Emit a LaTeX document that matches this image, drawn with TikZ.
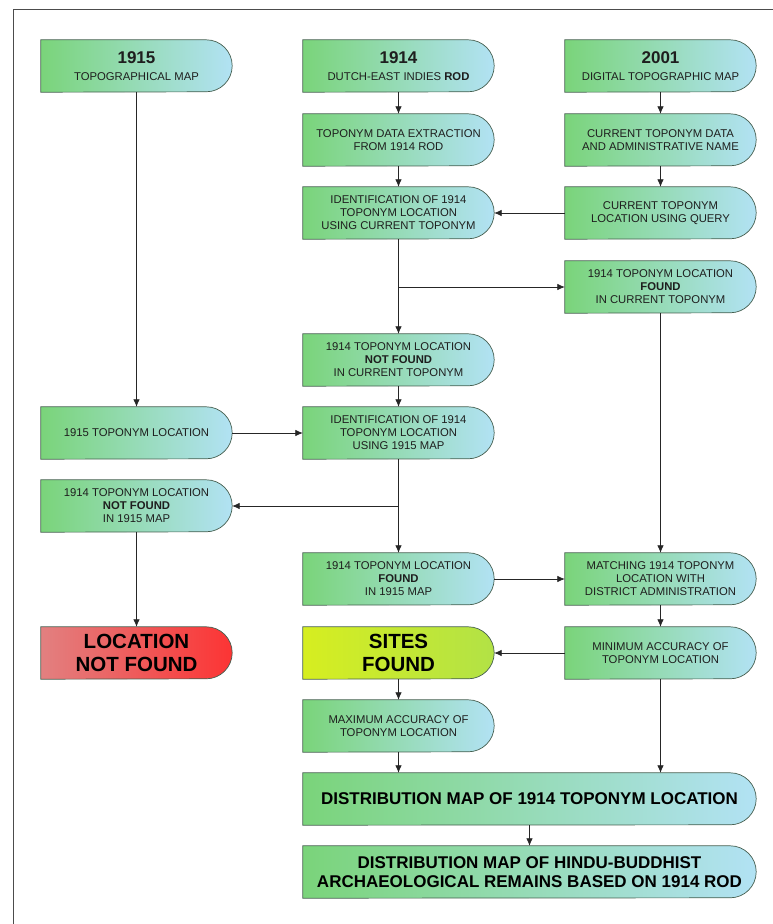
\documentclass[tikz,border=0pt]{standalone}
\usepackage{fontspec}
\setmainfont{Liberation Sans}
\usetikzlibrary{arrows.meta,backgrounds}
\definecolor{gA}{RGB}{122,212,122}
\definecolor{gB}{RGB}{178,226,244}
\definecolor{rA}{RGB}{226,128,128}
\definecolor{rB}{RGB}{252,52,52}
\definecolor{yA}{RGB}{214,238,32}
\definecolor{yB}{RGB}{178,226,70}
\definecolor{edgec}{RGB}{70,95,80}
\definecolor{txt}{RGB}{30,30,30}
\tikzset{
  box/.style={rectangle, draw=none, minimum width=191pt, minimum height=52pt,
    inner sep=0pt, align=center, text=txt, font=\fontsize{11.3}{13}\selectfont},
  wide/.style={box, minimum width=453pt, font=\fontsize{17}{19}\selectfont\bfseries, text=black},
  big/.style={font=\fontsize{20.5}{23}\selectfont\bfseries, text=black},
  boxline/.style={draw=edgec, line width=0.7pt},
  arr/.style={draw=black!85, line width=0.75pt, -{Latex[length=7.5pt,width=6.5pt]}},
}
\newcommand\dbox[3]{\draw[boxline, left color=#2, right color=#3] (#1.north west) -- ([xshift=-26pt]#1.north east) arc[start angle=90,end angle=-90,radius=26pt] -- (#1.south west) -- cycle;}
\newcommand\hd[1]{{\fontsize{17}{17}\selectfont\bfseries #1}\\[4pt]}
\begin{document}
\begin{tikzpicture}[x=1pt,y=-1pt]
\useasboundingbox (0,0) rectangle (773,924);
\draw[black!70, line width=1pt] (13,924) -- (13,9) -- (773,9);
% column 1
\node[box] (y1915) at (136.5,66) {\hd{1915}TOPOGRAPHICAL MAP};
\node[box] (loc1915) at (136.5,433) {1915 TOPONYM LOCATION};
\node[box] (nf2) at (136.5,506) {1914 TOPONYM LOCATION\\\textbf{NOT FOUND}\\IN 1915 MAP};
\node[box, big] (locnf) at (136.5,653) {LOCATION\\NOT FOUND};
% column 2
\node[box] (y1914) at (398.5,66) {\hd{1914}DUTCH-EAST INDIES \textbf{ROD}};
\node[box] (extract) at (398.5,140) {TOPONYM DATA EXTRACTION\\FROM 1914 ROD};
\node[box] (ident1) at (398.5,213) {IDENTIFICATION OF 1914\\TOPONYM LOCATION\\USING CURRENT TOPONYM};
\node[box] (nf1) at (398.5,360) {1914 TOPONYM LOCATION\\\textbf{NOT FOUND}\\IN CURRENT TOPONYM};
\node[box] (ident2) at (398.5,433) {IDENTIFICATION OF 1914\\TOPONYM LOCATION\\USING 1915 MAP};
\node[box] (found2) at (398.5,579) {1914 TOPONYM LOCATION\\\textbf{FOUND}\\IN 1915 MAP};
\node[box, big] (sites) at (398.5,653) {SITES\\FOUND};
\node[box] (maxacc) at (398.5,726) {MAXIMUM ACCURACY OF\\TOPONYM LOCATION};
% column 3
\node[box] (y2001) at (660.5,66) {\hd{2001}DIGITAL TOPOGRAPHIC MAP};
\node[box] (curdata) at (660.5,140) {CURRENT TOPONYM DATA\\AND ADMINISTRATIVE NAME};
\node[box] (query) at (660.5,213) {CURRENT TOPONYM\\LOCATION USING QUERY};
\node[box] (found1) at (660.5,287) {1914 TOPONYM LOCATION\\\textbf{FOUND}\\IN CURRENT TOPONYM};
\node[box] (match) at (660.5,579) {MATCHING 1914 TOPONYM\\LOCATION WITH\\DISTRICT ADMINISTRATION};
\node[box] (minacc) at (660.5,653) {MINIMUM ACCURACY OF\\TOPONYM LOCATION};
% wide
\node[wide] (dist) at (529.5,799) {DISTRIBUTION MAP OF 1914 TOPONYM LOCATION};
\node[wide] (hindu) at (529.5,872) {DISTRIBUTION MAP OF HINDU-BUDDHIST\\ARCHAEOLOGICAL REMAINS BASED ON 1914 ROD};
% box shapes behind the text
\begin{pgfonlayer}{background}
\foreach \n in {y1915,loc1915,nf2,y1914,extract,ident1,nf1,ident2,found2,maxacc,y2001,curdata,query,found1,match,minacc,dist,hindu}{\dbox{\n}{gA}{gB}}
\dbox{locnf}{rA}{rB}
\dbox{sites}{yA}{yB}
\end{pgfonlayer}
% connectors
\draw[arr] (y1915.south) -- (loc1915.north);
\draw[arr] (y1914.south) -- (extract.north);
\draw[arr] (extract.south) -- (ident1.north);
\draw[arr] (y2001.south) -- (curdata.north);
\draw[arr] (curdata.south) -- (query.north);
\draw[arr] (query.west) -- (ident1.east);
\draw[arr] (ident1.south) -- (nf1.north);
\draw[arr] (ident1.south |- found1.west) -- (found1.west);
\draw[arr] (nf1.south) -- (ident2.north);
\draw[arr] (loc1915.east) -- (ident2.west);
\draw[arr] (ident2.south) -- (found2.north);
\draw[arr] (ident2.south |- nf2.east) -- (nf2.east);
\draw[arr] (nf2.south) -- (locnf.north);
\draw[arr] (found1.south) -- (match.north);
\draw[arr] (found2.east) -- (match.west);
\draw[arr] (match.south) -- (minacc.north);
\draw[arr] (minacc.west) -- (sites.east);
\draw[arr] (minacc.south) -- (minacc.south |- dist.north);
\draw[arr] (sites.south) -- (maxacc.north);
\draw[arr] (maxacc.south) -- (maxacc.south |- dist.north);
\draw[arr] (dist.south) -- (hindu.north);
\end{tikzpicture}
\end{document}
